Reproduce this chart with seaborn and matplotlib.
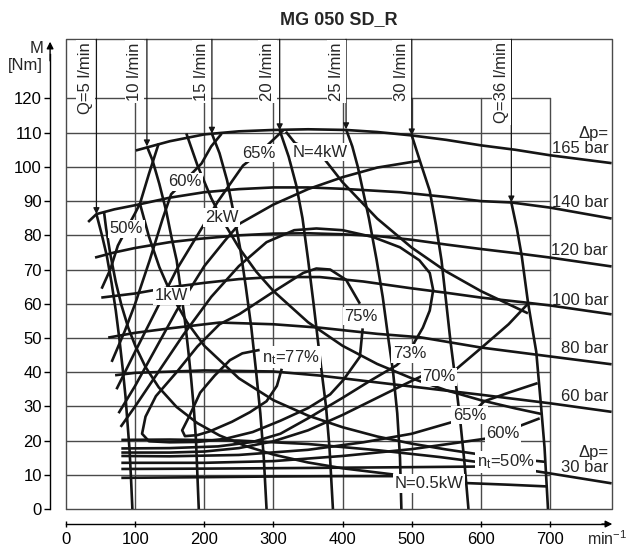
import matplotlib
matplotlib.use("Agg")
import matplotlib.pyplot as plt
import seaborn as sns

# values: speed n [min-1], torque M [Nm]

# pressure curves
p165_n = [101, 150, 200, 250, 300, 350, 405, 450, 500, 550, 600, 650, 700, 789]
p165_m = [104.8, 107.5, 109.5, 110.4, 110.8, 111.0, 110.8, 110.2, 109.2, 107.9, 106.3, 105.0, 103.4, 101.1]
p140_n = [32, 44, 70, 100, 150, 200, 250, 300, 350, 400, 483, 550, 600, 644, 700, 789]
p140_m = [83.9, 86.2, 87.6, 88.8, 91.0, 92.6, 93.5, 94.0, 94.0, 93.6, 92.6, 91.2, 90.0, 89.6, 88.1, 84.9]
p120_n = [42, 70, 100, 150, 194, 250, 300, 350, 400, 450, 500, 550, 600, 650, 700, 789]
p120_m = [73.5, 75.0, 76.3, 78.0, 79.0, 80.0, 80.5, 80.6, 80.3, 79.8, 78.7, 77.3, 76.0, 74.8, 73.5, 70.9]
p100_n = [51, 100, 150, 200, 250, 300, 367, 430, 500, 550, 600, 667, 700, 789]
p100_m = [61.8, 63.0, 64.8, 66.1, 67.2, 67.8, 67.8, 66.5, 64.5, 63.2, 61.8, 60.3, 59.5, 56.9]
p80_n = [61, 100, 150, 222, 300, 367, 450, 512, 600, 700, 789]
p80_m = [50.1, 51.5, 52.8, 54.5, 54.0, 53.0, 51.2, 50.2, 47.2, 44.6, 42.3]
p60_n = [71, 100, 200, 300, 367, 450, 500, 600, 700, 789]
p60_m = [39.1, 39.8, 40.5, 40.2, 39.0, 37.0, 35.8, 33.4, 30.9, 28.4]
p30_n = [80, 150, 250, 350, 450, 540, 593, 640, 700, 789]
p30_m = [20.2, 20.3, 20.0, 19.0, 17.2, 15.2, 13.8, 12.3, 10.4, 7.5]
low_n = [80, 200, 300, 400, 473]
low_m = [9.1, 9.3, 9.5, 9.6, 9.6]

# flow curves
q5_n = [44, 52, 59, 66, 72, 77, 82, 86, 89, 92, 94, 96]
q5_m = [86.2, 80, 74, 66, 58, 50, 41, 33, 25, 17, 9, 0]
q10_n = [117, 125, 135, 145, 153, 160, 166, 172, 177, 181, 185, 188, 190, 192]
q10_m = [106, 102, 95, 87, 79, 72.7, 64, 55, 46, 38, 29, 20, 10, 0]
q15_n = [211, 222, 233, 243, 252, 260, 268, 275, 281, 286, 290]
q15_m = [109.7, 104, 96, 86, 76, 65, 53, 40, 28, 15, 0]
q20_n = [309, 322, 333, 342, 350, 358, 365, 371, 376, 381, 386]
q20_m = [110.7, 103, 94.6, 85, 73, 60, 48, 38, 30, 18, 0]
q25_n = [405, 414, 422, 438, 449, 458, 466, 473, 479, 483, 485]
q25_m = [111, 106, 100, 85, 73, 62, 50, 40, 28, 15, 0]
q30_n = [500, 513, 526, 535, 543, 550, 556, 563, 570, 576, 582]
q30_m = [109.2, 101, 93, 83, 72.7, 60, 49, 38, 26, 14, 0]
q36_n = [644, 652, 659, 668, 675, 680, 687, 692, 697]
q36_m = [89.6, 82, 74, 60.5, 52, 46, 30, 18, 0]
q_labels = ["Q=5 l/min", "10 l/min", "15 l/min", "20 l/min", "25 l/min", "30 l/min", "Q=36 l/min"]
q_label_n = [27.5, 99.7, 196.5, 292, 391, 485, 629.6]

# power curves
kw05_n = [55, 58, 64, 72, 80, 90, 100, 115, 134, 160, 190, 222, 260, 300, 350, 400, 473]
kw05_m = [86.8, 82, 74.6, 66.3, 59.7, 53, 47.8, 41.5, 35.6, 29.8, 25.1, 21.5, 18.4, 15.9, 13.6, 11.9, 10.1]
kw05r_n = [576, 640, 695]
kw05r_m = [7.6, 7.1, 6.6]
kw1_n = [107, 120, 135, 153, 175, 200, 250, 300, 350, 400, 450, 500, 550, 600, 650, 692]
kw1_m = [89.2, 79.6, 70.7, 62.4, 54.6, 47.7, 38.2, 31.8, 27.3, 23.9, 21.2, 19.1, 17.4, 15.9, 14.7, 13.8]
kw2_n = [174, 190, 210, 225, 250, 275, 300, 350, 400, 450, 500, 550, 600, 650, 687]
kw2_m = [109.8, 100.5, 90.9, 84.9, 76.4, 69.4, 63.7, 54.6, 47.7, 42.4, 38.2, 34.7, 31.8, 29.4, 27.8]
kw4_n = [318, 331, 367, 400, 450, 500, 550, 600, 668]
kw4_m = [110.3, 107, 104, 95.5, 84.9, 76.4, 69.4, 63.7, 57.2]

# efficiency curves
e50a_n = [51.5, 64, 75, 88, 100, 107, 120, 134]
e50a_m = [64.4, 70, 77, 82, 86.5, 89.3, 98, 106.8]
e50b_n = [80, 200, 350, 480, 592]
e50b_m = [11.7, 11.8, 12.0, 12.2, 12.4]
e60a_n = [66, 85, 100, 121, 140, 152, 172, 196, 210, 225]
e60a_m = [43, 52, 60, 72.7, 85, 92, 96, 101, 106, 109.7]
e60b_n = [80, 200, 300, 400, 500, 560, 608, 632, 659, 685]
e60b_m = [13.5, 13.5, 14.0, 15.5, 17.5, 19.2, 20.6, 22.1, 24.5, 26.5]
e65a_n = [73, 100, 130, 160, 190, 220, 256, 279, 300, 314]
e65a_m = [35, 46, 58, 70, 80, 90, 100.4, 104, 108, 110.7]
e65b_n = [80, 150, 250, 350, 430, 500, 560, 584, 605, 640, 682]
e65b_m = [15.5, 15.4, 15.8, 17.3, 19.5, 22, 25.5, 27.4, 31.5, 34, 36.8]
e70a_n = [76, 100, 130, 160, 200, 230, 251, 300, 350, 400, 450, 511]
e70a_m = [28, 36, 47, 58, 71, 78.5, 83.4, 89, 93.5, 97, 99.8, 101.8]
e70b_n = [80, 150, 200, 250, 300, 350, 400, 440, 480, 516, 540, 565, 600, 640, 668]
e70b_m = [16.5, 16.5, 16.8, 17.8, 19.8, 23, 27.5, 31.5, 35.5, 39, 38.6, 41, 47, 54, 60]
e73_n = [79, 100, 130, 170, 210, 250, 290, 330, 362, 400, 444, 483, 511, 526, 531, 526, 516,
         504, 497, 478, 440, 400, 350, 310, 270, 220, 150, 80]
e73_m = [24, 30, 39, 51, 62, 71, 78, 81.5, 82, 81.5, 79.5, 76.5, 72.7, 69, 64, 58, 53,
         48.8, 45.5, 42, 37.5, 32.5, 26.5, 22, 19.6, 18.3, 17.8, 17.7]
e75_n = [425, 405, 382, 362, 343, 300, 251, 222, 190, 160, 130, 115, 110, 120, 150, 190, 230,
         270, 310, 350, 382, 401, 425, 429]
e75_m = [60, 67, 70, 70.3, 69, 63.5, 57, 54, 47.5, 40, 33, 27, 22, 19.8, 19.5, 19.6, 20.5,
         22.5, 25.8, 29.5, 33.5, 37.7, 44.5, 52.8]
e77_n = [280, 255, 237, 215, 194, 178, 168, 172, 190, 208, 240, 266, 290, 305, 312]
e77_m = [46.5, 45.5, 43.5, 39, 34, 27, 23, 21.3, 21.6, 22.7, 25.5, 28.3, 31.5, 36, 41]

# in-chart labels
curve_labels = ["50%", "60%", "65%", "N=4kW", "2kW", "1kW", "75%", "n$_\\mathrm{t}$=77%", "73%",
                "70%", "65%", "60%", "n$_\\mathrm{t}$=50%", "N=0.5kW"]
curve_label_n = [87.6, 172, 279, 368, 225, 152.7, 427, 325, 497, 539.6, 584, 632, 635.4, 524.6]
curve_label_m = [81.9, 95.6, 104, 104.3, 85.2, 62.3, 56.4, 44.3, 45.5, 38.6, 27.4, 22.1, 13.8, 7.5]
dp_labels = ["\u0394p=\n165 bar", "140 bar", "120 bar", "100 bar", "80 bar", "60 bar", "\u0394p=\n30 bar"]
dp_label_m = [107.6, 89.7, 75.6, 61.0, 46.9, 32.8, 14.3]

sns.set_theme(style="white")
plt.rcParams["font.family"] = ["Liberation Sans", "DejaVu Sans"]
plt.rcParams["mathtext.fontset"] = "custom"
plt.rcParams["mathtext.rm"] = "Liberation Sans"
plt.rcParams["mathtext.it"] = "Liberation Sans:italic"

fig = plt.figure(figsize=(6.32, 5.47), dpi=100)
ax = fig.add_axes([66 / 632, 38 / 547, 546.3 / 632, 469.7 / 547])
ax.set_xlim(0, 790)
ax.set_ylim(0, 137.3)

grid_c = "#4a4a4a"
fs = 12
# grid and frame
for y in range(10, 130, 10):
    ax.plot([0, 700], [y, y], color=grid_c, lw=1.0, zorder=1)
for x in range(100, 800, 100):
    ax.plot([x, x], [0, 120], color=grid_c, lw=1.0, zorder=1)
ax.plot([0, 790, 790, 0, 0], [0, 0, 137.3, 137.3, 0], color=grid_c, lw=1.0, zorder=1, clip_on=False)

ink = "#151515"
curves = [(p165_n, p165_m), (p140_n, p140_m), (p120_n, p120_m), (p100_n, p100_m),
          (p80_n, p80_m), (p60_n, p60_m), (p30_n, p30_m), (low_n, low_m),
          (q5_n, q5_m), (q10_n, q10_m), (q15_n, q15_m), (q20_n, q20_m),
          (q25_n, q25_m), (q30_n, q30_m), (q36_n, q36_m),
          (kw05_n, kw05_m), (kw05r_n, kw05r_m), (kw1_n, kw1_m), (kw2_n, kw2_m), (kw4_n, kw4_m),
          (e50a_n, e50a_m), (e50b_n, e50b_m), (e60a_n, e60a_m), (e60b_n, e60b_m),
          (e65a_n, e65a_m), (e65b_n, e65b_m), (e70a_n, e70a_m), (e70b_n, e70b_m),
          (e73_n, e73_m), (e75_n, e75_m), (e77_n, e77_m)]
for cn, cm in curves:
    sns.lineplot(x=cn, y=cm, sort=False, estimator=None, color=ink, lw=1.9, ax=ax, zorder=3,
                 solid_joinstyle="round", solid_capstyle="butt")

# flow labels with arrows from the top of the frame
q_curves = [(q5_n, q5_m), (q10_n, q10_m), (q15_n, q15_m), (q20_n, q20_m),
            (q25_n, q25_m), (q30_n, q30_m), (q36_n, q36_m)]
for (cn, cm), lab, ln in zip(q_curves, q_labels, q_label_n):
    ax.annotate("", xy=(cn[0], cm[0]), xytext=(cn[0], 137.3),
                arrowprops=dict(arrowstyle="-|>", color=ink, lw=0.9, mutation_scale=9,
                                shrinkA=0, shrinkB=0), zorder=4)
    ax.text(ln, 136.4, lab, rotation=90, ha="center", va="top", fontsize=fs, zorder=6,
            bbox=dict(boxstyle="square,pad=0.12", fc="white", ec="none"))

for lab, ln, lm in zip(curve_labels, curve_label_n, curve_label_m):
    ax.text(ln, lm, lab, ha="center", va="center", fontsize=fs, zorder=6,
            bbox=dict(boxstyle="square,pad=0.1", fc="white", ec="none"))

for lab, lm in zip(dp_labels, dp_label_m):
    ax.text(784, lm, lab, ha="right", va="center", fontsize=fs, zorder=6,
            multialignment="right", linespacing=0.95)

# axes with arrows, set off from the frame
for s in ["top", "right"]:
    ax.spines[s].set_visible(False)
ax.spines["left"].set_position(("data", -23))
ax.spines["left"].set_bounds(0, 133)
ax.spines["bottom"].set_position(("data", -4.4))
ax.spines["bottom"].set_bounds(0, 780)
for s in ["left", "bottom"]:
    ax.spines[s].set_color("black")
    ax.spines[s].set_linewidth(1.0)
ax.annotate("", xy=(-23, 136.6), xytext=(-23, 131), annotation_clip=False,
            arrowprops=dict(arrowstyle="-|>", color="black", lw=1, mutation_scale=10, shrinkA=0, shrinkB=0))
ax.annotate("", xy=(790, -4.4), xytext=(775, -4.4), annotation_clip=False,
            arrowprops=dict(arrowstyle="-|>", color="black", lw=1, mutation_scale=10, shrinkA=0, shrinkB=0))

ax.set_xticks(range(0, 800, 100))
ax.set_yticks(range(0, 130, 10))
ax.tick_params(axis="y", left=True, direction="out", length=4, width=1, pad=2, labelsize=fs, colors="black")
ax.tick_params(axis="x", bottom=True, direction="inout", length=5, width=1, pad=3, labelsize=fs, colors="black")
ax.set_xlabel("")
ax.set_ylabel("")

ax.text(-33, 134.6, "M", ha="right", va="center", fontsize=fs, clip_on=False)
ax.text(-33, 129.6, "[Nm]", ha="right", va="center", fontsize=fs, clip_on=False)
ax.text(754, -8.6, "min$^{-1}$", ha="left", va="center", fontsize=11.5, clip_on=False)

fig.text(339 / 632, 1 - 20 / 547, "MG 050 SD_R", ha="center", va="center", fontsize=13, fontweight="bold")

fig.savefig("out.png", dpi=100)
